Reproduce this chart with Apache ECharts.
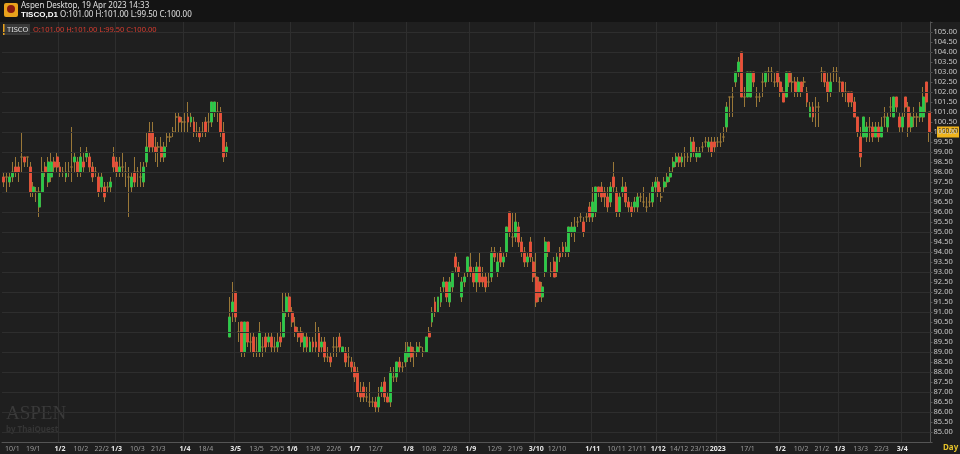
<!DOCTYPE html>
<html><head><meta charset="utf-8">
<script src="https://cdn.jsdelivr.net/npm/echarts@6/dist/echarts.min.js"></script>
<style>html,body{margin:0;padding:0;background:#1f1f1f}#c{width:960px;height:454px}</style>
</head><body><div id="c"></div>
<script>
// rows: [open, close, low, high]
var seg1=[[97.75,97.5,97.25,98],[97.75,97.75,97,98],[97.5,97.75,97.25,98],[97.75,98,97.5,98.5],[98.25,98,97.75,98.75],[98.25,98,97.5,98.5],[98.75,98.75,98,100],[98.75,98.5,98.25,98.75],[98.75,98.75,98.25,98.75],[98.25,97,96.75,98.5],
[97,97.25,96.75,97.5],[97,97,96.5,97.25],[96.25,97,95.75,97.25],[97,98,97,98.75],[98.25,98,97.75,98.5],[97.5,98.5,97.25,98.75],[97.75,98.5,97.5,99],[98.5,98.25,98,98.75],[98.75,98.25,98,99],[98.25,98,97.75,98.5],
[98,98,97.75,98.25],[97.75,98,97.5,98.5],[98,98,97.75,98.5],[98.25,98.25,97.5,100.25],[98.5,98.75,98,99],[98.5,98,97.75,98.75],[98,98.75,97.75,99.25],[98.5,98.25,98,99],[98.75,99,98.5,99.25],[98.75,98.25,98,99],
[98.25,97.75,97.5,98.5],[98,98,97.75,98.25],[97.75,97,96.75,98],[97.25,97.75,97,98],[97.25,96.75,96.5,97.5],[97.25,97.25,97,97.5],[97.25,97.5,97,97.75],[98.75,98.25,98,99.25],[98.5,98,97.75,98.75],[98,98.25,97.75,98.75],
[98.25,98.25,97.75,99],[98,98,97.25,98.5],[97.75,97.75,95.75,98.25],[97.25,97.75,97,98],[98,97.5,97.25,98.75],[98,98,97.25,98.25],[97.75,97.75,97.25,98.5],[97.5,98.25,97.25,98.5],[98.5,99.25,98.25,100],[100,99.25,99,100.5],
[100,99.25,99,100.5],[99.25,99,98.5,99.75],[99.25,99.25,98.25,99.5],[99.25,98.75,98.5,99.75],[98.75,99.25,98.5,99.5],[99.75,99.75,99.25,100],[99.75,99.75,99.5,100],[100,100,99.75,100.25],[100.75,100.75,100,101],[100.75,100.5,100,101],
[100.5,100.5,100,100.75],[100.5,100.5,100,101],[100.75,100.5,100,101.5],[100.5,100.75,100.25,101],[100.5,100,99.75,100.75],[100,100,99.75,100.5],[100,99.75,99.5,100.25],[100,100,99.75,100.5],[100.5,100,99.75,100.75],[100.5,100.5,100,101],
[100.5,101.5,100.25,101.5],[101,101.5,100.75,101.5],[101,101,100.5,101.5],[101,100,99.75,101.25],[100,98.75,98.5,100.5],[99,99.25,98.75,99.5]];
var seg2=[[89.75,90.75,89.75,91.75],[91,91.5,90.5,92.5],[92,90.75,90.5,92],[90,90,89.5,90.5],[90.5,89,88.75,90.5],[89,90.5,88.75,90.5],[90.5,89.5,89.25,90.5],[89.5,89.5,89,90],[89.75,89,88.75,90],[89,89,88.75,89.75],
[89,90,88.75,90.5],[89.25,89.25,88.75,89.75],[89.75,89.25,89,90],[89.5,89.75,89.25,90],[89.75,89.25,89,90],[89.25,89.25,89,89.75],[89.25,89.5,89,90],[89.75,89.5,89.25,90.5],[89.75,91,89.75,92],[91,91.75,90.75,92],
[91.75,91,90.75,92],[91,90.5,90.25,91.25],[90.25,90,89.75,90.75],[90,89.75,89.5,90.25],[90,89.5,89.25,90.25],[89.25,89.75,89,90],[89.75,89.25,89,90],[89,89.5,89,89.75],[89.5,89.25,89,89.75],[89.5,89.25,89,90.5],
[90,89,88.75,90.25],[89.25,89.5,89,89.75],[89.5,88.75,88.5,89.75],[88.75,88.75,88.5,89.25],[88.75,88.5,88.25,89],[89.25,89.25,88.75,89.75],[89.25,89.25,88.75,89.75],[89.75,89.25,89,90],[89,89.25,89,89.25],[89,88.5,88.25,89.25],
[88.75,88.75,88.25,89.25],[88.5,88.25,88,88.75],[88.25,87.75,87.5,88.5],[88,87,86.75,88.25],[87,86.75,86.5,87.5],[87.25,86.75,86.5,87.5],[86.75,86.75,86.5,87.25],[86.5,86.5,86.25,87.5],[86.5,86.5,86.25,86.75],[86.5,86.25,86,86.75],
[86.25,86.75,86,87.25],[87,87.25,86.75,87.5],[87.5,86.75,86.5,87.75],[86.75,86.5,86.5,87],[86.5,88,86.25,88.25],[87.75,87.75,87.5,88.25],[87.75,88.5,87.5,88.5],[88.5,88.25,88,88.75],[88.25,88.25,88,88.5],[88.5,89,88.25,89.5],
[88.75,89.25,88.5,89.5],[89.25,88.75,88.5,89.5],[89,89,88.25,89.25],[89,89.25,88.75,89.5],[89.25,89.25,89,89.5],[89,89,88.75,89.25],[89,89.75,89,89.75],[90,89.75,89.75,90.25],[90.5,91,90.25,91.25],[91.5,91,90.75,91.75],
[91,91.75,91,91.75],[91.5,92,91.25,92.25],[92.25,92.5,92,92.75],[92.5,91.75,91.5,92.5],[91.5,92.5,91.25,92.75],[92.25,93,92,93]];
var seg3=[[93.75,93.25,93,94],[93.25,93,92.75,93.5],[91.75,92.5,91.5,92.75],[92.5,92.75,92.25,93],[93,93.75,92.75,93.75],[93.25,93,92.75,94],[93,92.5,92.25,93.25],[92.5,93.25,92,93.5],[93.25,92.5,92.25,94],[92.75,92.5,92.25,93.25],
[92.75,92.25,92,93],[92.5,92.5,92.25,93],[92.75,94,92.5,94.25],[94,93.75,93.5,94.25],[93,93.5,92.75,94],[94,93.5,93.25,94.25],[93.5,93.75,93.25,94],[94,95.25,93.75,95.25],[96,95,94.75,96],[94.75,94.75,94.25,96],
[94.75,95.5,94.5,96],[95.25,94.5,94.25,95.5],[94.5,94,93.75,94.75],[94,93.5,93.25,94.25],[93.5,93.75,93.25,94],[94.5,93.75,93.5,94.75],[93.5,92.75,92.5,93.75],[92.75,91.5,91.25,94],[92.5,91.75,91.5,92.75],[91.75,92.25,91.5,92.5],
[93,94.5,92.75,94.75],[94.5,94,93.75,94.5],[93,93,92.75,93.5],[93.5,92.75,92.75,93.75],[93,93.75,92.75,94],[94,93.75,93.5,94.25],[94.25,94,93.75,94.5],[94,94.25,93.75,94.5],[94,95.25,93.75,95.25],[95,95.25,94.75,95.5],
[95,95.25,94.5,95.75],[95.5,95.5,95.25,95.75],[95.75,95.75,95.5,96],[95.5,95,94.75,95.75],[95.75,95.75,95.5,96],[96.25,95.75,95.5,96.5],[95.75,96.5,95.5,97.25],[96,97.25,95.75,97.25],[97.25,97,96.75,97.25],[97.25,96.75,96.5,97.5],
[97,96.75,96.25,97.25],[96.75,96.25,96,97.25],[96.5,97.25,96.25,97.5],[97.75,97.25,97,98.5],[97,96,95.75,97.25],[96,96.75,95.75,97],[97,97.25,96.75,97.75],[97.25,96.5,96.25,97.5],[96.5,96.25,96,96.75],[96.25,96,95.75,96.5],
[96.25,96.5,96,96.75],[96.25,96.75,96,97],[96.75,96.75,96.5,97],[96.5,96.5,96.25,97.25],[96.25,96.25,96,96.75],[96.5,96.5,96.25,97],[96.5,97.25,96.25,97.5],[97.25,97.5,97,97.75],[97.5,97,96.75,97.75],[96.75,96.75,96.5,97.25],
[97.25,97.5,97,97.75],[97.5,97.75,97.25,98],[97.75,98,97.5,98.25],[98.25,98.5,98,98.75]];
var seg4=[[98.5,98.75,98.25,99],[98.75,98.5,98.25,99],[98.5,98.75,98.25,99],[98.75,98.75,98.25,99.25],[98.75,98.75,98.5,99],[98.75,99.5,98.5,99.75],[99.5,99,98.75,99.75],[98.75,99,98.5,99.25],[98.75,99,98.75,99.25],[99.25,99.25,99,99.5],
[99.5,99.5,99.25,99.75],[99.25,99.5,99,99.75],[99.5,99,98.75,99.75],[99.5,99.25,99,99.75],[99.5,99.5,99.25,99.75],[99.5,99.5,99.25,100],[99.75,99.75,99.5,100.25],[100.25,101.25,100,101.5],[101.75,101.75,100.75,101.75],[101.75,101.75,100.75,102.25],
[102.5,103,102.25,103],[103,103.5,102.75,103.75],[104,101.75,101.75,104],[101.75,101.75,101.25,102.25],[101.75,103,101.75,103],[101.75,103,101.75,103],[103,102.5,102.25,103],[101.75,101.75,101.25,102.25],[101.75,101.75,101.5,102],[102.5,102.5,101.75,103],
[102.5,103,102.25,103],[103,103,102.5,103.25],[103,103,102.5,103.25],[102.5,102.5,102.25,103],[103,102.5,102.25,103],[102.5,102,101.75,102.75],[102,101.5,101.5,102.25],[101.75,103,101.75,103],[103,102.5,102.25,103],[102.5,102.5,102,103],
[102.5,102,101.75,102.75],[102,102.5,101.75,102.75],[102.5,102,101.75,102.5],[102.5,102.5,102.25,102.75],[102,101.5,101.25,102.25],[100.75,101.25,100.75,101.5],[101.25,100.75,100.5,101.5],[101.25,101.25,100.25,101.75],[101.25,101.25,100.25,101.5],[103,103,102.5,103.25],
[103,102.5,102.25,103],[102.5,102,101.5,103],[102,102.5,101.75,103],[103,103,102.5,103.25],[103,103,102.5,103.25],[102.5,102.5,102,102.75],[102.5,102,101.75,102.5],[102,102,101.5,102.5],[102,101.5,101.25,102],[102,101.5,101.25,102],
[101.5,100.75,100.75,101.75],[100.75,100,99.75,100.75],[99.75,98.75,98.25,100.25],[99.75,100.75,99.75,100.75],[99.75,100.25,99.5,100.5],[100.25,100.25,99.5,100.75],[100.25,99.75,99.5,100.5],[99.75,100.25,99.75,100.5],[100.25,99.75,99.5,100.5],[99.75,100.25,99.75,100.75],
[100.75,100.75,100.25,101.25],[100.25,100.75,100,101],[101.25,101.25,100.75,101.75],[100.75,101.75,100.75,101.75],[101.75,101.25,101,101.75],[100.75,100.25,100,101],[100.25,100.75,100,101],[101.75,101.25,100.75,101.75],[101.25,100.25,99.75,101.5],[100.25,100.75,100,101],
[100.75,100.75,100.25,101.25],[100.75,100.75,100.25,101],[100.75,101.25,100.5,101.5],[100.75,101.75,100.5,102.25],[102.5,101.5,101,102.5],[101,100,99.5,101]];
var tickIdx=[3,10,19,26,33,38,45,52,61,68,78,85,92,97,104,111,118,125,136,143,150,157,165,172,179,186,198,206,213,220,227,234,240,250,261,268,275,281,288,295,302];
var tickText=['10/1','19/1','1/2','10/2','22/2','1/3','10/3','21/3','1/4','18/4','3/5','13/5','25/5','1/6','13/6','22/6','1/7','12/7','1/8','10/8','22/8','1/9','12/9','21/9','3/10','12/10','1/11','10/11','21/11','1/12','14/12','23/12','2023','17/1','1/2','10/2','21/2','1/3','13/3','22/3','3/4'];
var tickBold=[0,0,1,0,0,1,0,0,1,0,1,0,0,1,0,0,1,0,1,0,0,1,0,0,1,0,1,0,0,1,0,0,1,0,1,0,0,1,0,0,1];
var gridPrices=[85,86,87,88,89,90,91,92,93,94,95,96,97,98,99,100,101,102,103,104,105];

var rows=seg1.concat(seg2,seg3,seg4);
var cats=rows.map(function(r,i){return String(i);});
var tickMap={},boldMap={};
tickIdx.forEach(function(t,k){tickMap[t]=tickText[k];if(tickBold[k])boldMap[t]=1;});
var bodies=rows.map(function(r){return r[0]===r[1]?'-':[r[0],r[1],Math.min(r[0],r[1]),Math.max(r[0],r[1])];});
var RED='#ee4b3b',GRN='#1fcf4c',WICK='#9a7838';
var ch=echarts.init(document.getElementById('c'));
var last=rows[rows.length-1];
ch.setOption({
 backgroundColor:'#1f1f1f',animation:false,
 grid:{left:2,right:23,top:22,bottom:12},
 xAxis:{type:'category',data:cats,boundaryGap:true,
  axisLine:{lineStyle:{color:'#555'}},axisTick:{show:false},
  axisLabel:{interval:function(i){return tickMap[i]!==undefined;},margin:3,
   formatter:function(v){var t=tickMap[+v];if(t===undefined)return '';return boldMap[+v]?'{b|'+t+'}':'{n|'+t+'}';},
   rich:{b:{color:'#e8e8e8',fontSize:7,fontWeight:'bold',fontFamily:'Noto Sans'},n:{color:'#9a9a9a',fontSize:7,fontFamily:'Noto Sans'}}},
  splitLine:{show:true,interval:function(i){return !!boldMap[i];},lineStyle:{color:'#2e2e2e'}}},
 yAxis:{type:'value',position:'right',min:84.5,max:105.5,interval:0.5,
  axisLine:{show:true,lineStyle:{color:'#555'}},axisTick:{show:true,length:2,lineStyle:{color:'#555'}},
  axisLabel:{color:'#c8c8c8',fontSize:7.5,margin:3,fontFamily:'Noto Sans',formatter:function(v){return (v>105||v<85)?'':v.toFixed(2);}},
  splitLine:{show:false}},
 series:[
  {type:'line',data:[],silent:true,z:0,markLine:{silent:true,symbol:'none',label:{show:false},lineStyle:{color:'#2e2e2e',type:'solid',width:1},data:gridPrices.map(function(p){return {yAxis:p};})}},
  {type:'candlestick',data:rows,barWidth:2.4,itemStyle:{color:'transparent',color0:'transparent',borderColor:WICK,borderColor0:WICK,borderWidth:1}},
  {type:'candlestick',data:bodies,barWidth:2.4,itemStyle:{color:GRN,color0:RED,borderColor:GRN,borderColor0:RED,borderWidth:0.5}}
 ]
});
var py=ch.convertToPixel({yAxisIndex:0},last[1]);
ch.setOption({graphic:[
 {type:'rect',shape:{x:0,y:0,width:960,height:22},style:{fill:'#141414'}},
 {type:'rect',shape:{x:4,y:3,width:14,height:14,r:2},style:{fill:'#e9a21c'}},
 {type:'circle',shape:{cx:11,cy:9,r:4},style:{fill:'#8a1a10'}},
 {type:'text',x:21,y:2,style:{text:'Aspen Desktop, 19 Apr 2023 14:33',fill:'#e0e0e0',fontSize:8,fontFamily:'Noto Sans'}},
 {type:'text',x:21,y:11,style:{text:'{b|TISCO,D1} O:101.00 H:101.00 L:99.50 C:100.00',fill:'#e0e0e0',fontSize:8,fontFamily:'Noto Sans',rich:{b:{fontWeight:'bold',fontSize:8,fill:'#ffffff'}}}},
 {type:'rect',shape:{x:3,y:24,width:27,height:11},style:{fill:'#3a3a3a'}},
 {type:'rect',shape:{x:3,y:24,width:1.5,height:11},style:{fill:'#e9a21c'}},
 {type:'text',x:7,y:25.5,style:{text:'TISCO',fill:'#dddddd',fontSize:7.5,fontFamily:'Noto Sans'}},
 {type:'text',x:33,y:25.5,style:{text:'O:101.00 H:101.00 L:99.50 C:100.00',fill:'#d83c30',fontSize:7.5,fontFamily:'Noto Sans'}},
 {type:'text',x:6,y:405,style:{text:'ASPEN',fill:'#3a3a3a',fontSize:19,fontFamily:'Liberation Serif'}},
 {type:'text',x:6,y:426,style:{text:'by ThaiQuest',fill:'#353535',fontSize:8,fontWeight:'bold',fontFamily:'Noto Sans'}},
 {type:'rect',shape:{x:937,y:py-5.5,width:22,height:11},style:{fill:'#f0b41c'}},
 {type:'text',x:938,y:py-4,style:{text:last[1].toFixed(2),fill:'#222',fontSize:6.5,fontFamily:'Noto Sans'}},
 {type:'text',x:943,y:444,style:{text:'Day',fill:'#e6c32a',fontSize:8,fontWeight:'bold',fontFamily:'Noto Sans'}}
]});
</script></body></html>
